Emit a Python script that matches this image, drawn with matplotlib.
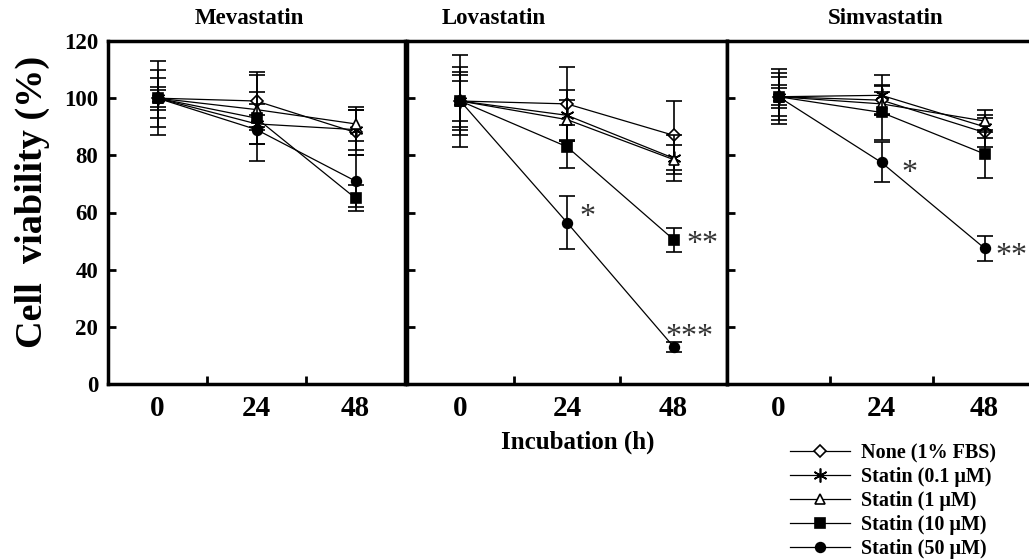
import numpy as np
import matplotlib
matplotlib.use("Agg")
import matplotlib.pyplot as plt

plt.rcParams['font.family'] = ['Liberation Serif', 'DejaVu Serif']
plt.rcParams['font.weight'] = 'bold'

times = [0, 24, 48]
panels = ["Mevastatin", "Lovastatin", "Simvastatin"]
labels = ["None (1% FBS)", "Statin (0.1 \u03bcM)", "Statin (1 \u03bcM)",
          "Statin (10 \u03bcM)", "Statin (50 \u03bcM)"]

# mean viability (%) per panel, rows in legend order
mev = [[100, 99, 88], [100, 91, 89], [100, 96, 91], [100, 93, 65], [100, 89, 71]]
mev_err = [[13, 10, 8], [10, 7, 7], [7, 6, 6], [4, 15, 4.5], [3, 5, 9]]

lov = [[99, 98, 87], [99, 94, 79], [99, 92.5, 78.5], [99, 83, 50.5], [99, 56.5, 13]]
lov_err = [[16, 13, 12], [12, 9, 8], [10, 7, 5], [9, 7.5, 4.2], [7, 9.3, 1.8]]

sim = [[100.5, 99.3, 88], [100.5, 101, 90], [100.5, 98, 92], [100.5, 95, 80.5], [100.5, 77.5, 47.5]]
sim_err = [[9.7, 5, 5], [8.3, 7, 4], [6.9, 4, 3.7], [4, 9.5, 8.3], [3, 7, 4.3]]

# significance marks: (panel, series, time index, text, dx pt, dy pt)
stars = [(1, 4, 1, "*", 14.5, 9), (1, 3, 2, "**", 21, 2), (1, 4, 2, "***", 11.5, 12),
         (2, 4, 1, "*", 20, -2), (2, 4, 2, "**", 19.5, 0)]

markers = ['D', (6, 2, 0), '^', 's', 'o']
faces = ['white', 'black', 'white', 'black', 'black']
msizes = [6.5, 10, 7.5, 6.5, 7]

data = [mev, lov, sim]
errs = [mev_err, lov_err, sim_err]

fig = plt.figure(figsize=(10.29, 5.6), dpi=100)
W, H = 1029, 560
boxes = [(108, 405), (407, 727), (727, 1036)]
top, bottom = 41, 384
title_x = [249, 494, 886]

axes = []
handles = []
for i, (x0, x1) in enumerate(boxes):
    ax = fig.add_axes([x0 / W, 1 - bottom / H, (x1 - x0) / W, (bottom - top) / H])
    axes.append(ax)
    for j in range(5):
        c = ax.errorbar(times, data[i][j], yerr=errs[i][j], color='black', lw=0.9,
                        elinewidth=1.2, capsize=5.5, capthick=1.5,
                        marker=markers[j], ms=msizes[j], mfc=faces[j], mec='black',
                        mew=1.2, zorder=3 + j)
        if i == 0:
            handles.append(c[0])
    ax.set_xlim(-12, 60)
    ax.set_ylim(0, 120)
    ax.set_xticks([12, 36])
    ax.set_xticklabels([])
    ax.set_xticks(times, minor=True)
    ax.set_xticklabels([str(t) for t in times], minor=True, fontsize=21, fontweight='bold')
    ax.tick_params(axis='x', which='major', direction='in', length=6, width=2)
    ax.tick_params(axis='x', which='minor', length=0, pad=8)
    ax.set_yticks(np.arange(0, 121, 20))
    ax.tick_params(axis='y', direction='in', length=6, width=2, pad=7)
    if i == 0:
        ax.set_yticklabels([str(v) for v in range(0, 121, 20)], fontsize=16.5, fontweight='bold')
    else:
        ax.set_yticklabels([])
    for s in ax.spines.values():
        s.set_linewidth(2.5)
    fig.text(title_x[i] / W, 1 - 19 / H, panels[i], ha='center', va='center',
             fontsize=16.5, fontweight='bold')

# Times asterisk sits high, so anchor on the baseline and drop it by ~half an em
for (p, s, k, txt, dx, dy) in stars:
    axes[p].annotate(txt, (times[k], data[p][s][k]), xytext=(dx, dy - 11),
                     textcoords='offset points', ha='center', va='baseline',
                     fontsize=23, fontweight='normal', color='#333333')

fig.text(32 / W, 1 - 202 / H, "Cell  viability (%)", rotation=90, ha='center', va='center',
         fontsize=27.5, fontweight='bold')
fig.text(578 / W, 1 - 442 / H, "Incubation (h)", ha='center', va='center',
         fontsize=18, fontweight='bold')

fig.legend(handles, labels, loc='upper left', bbox_to_anchor=(790 / W, 1 - 443 / H),
           frameon=False, handlelength=3.0, handletextpad=0.55,
           labelspacing=0.2, borderpad=0, borderaxespad=0, prop={'weight': 'bold', 'size': 14.5})

fig.savefig("out.png", dpi=100)
